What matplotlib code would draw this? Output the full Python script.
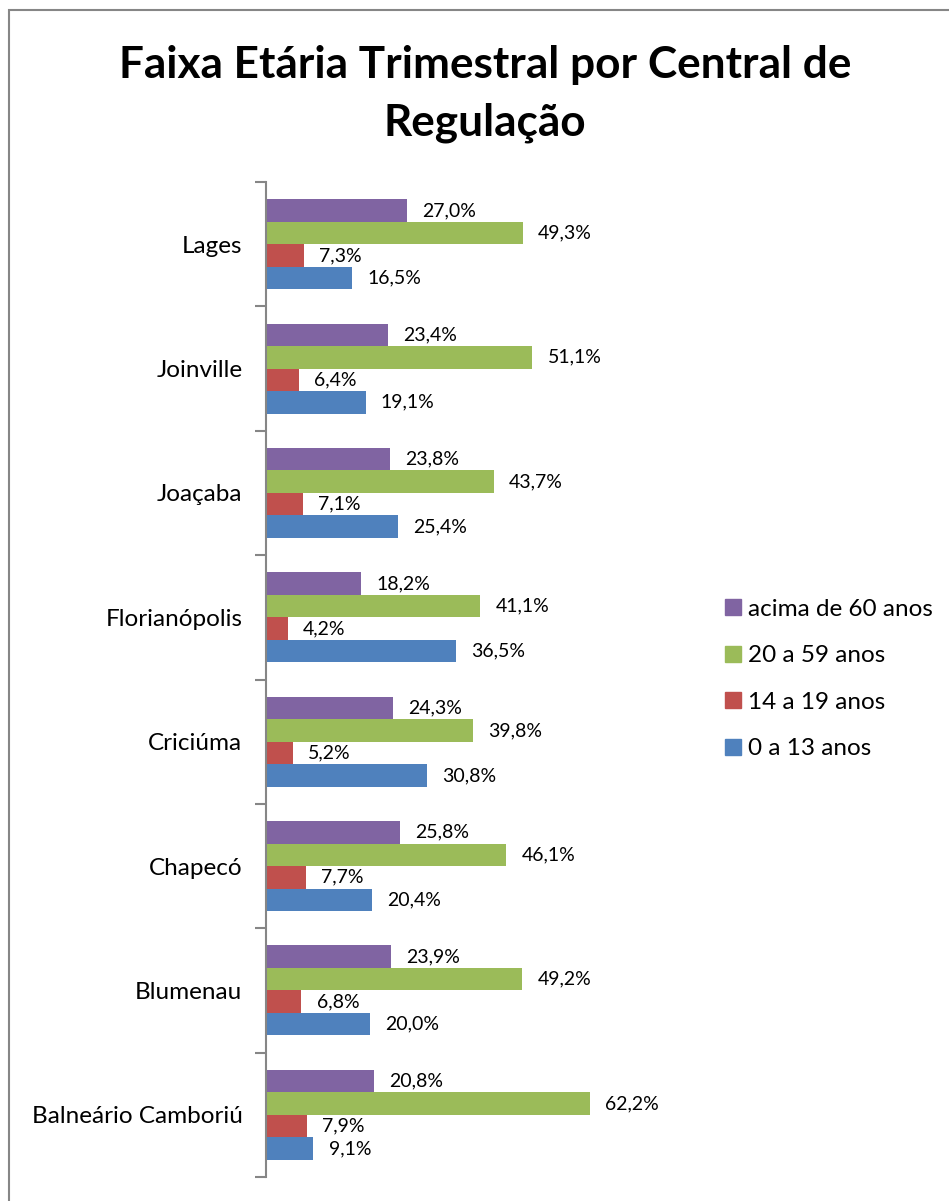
import matplotlib
matplotlib.use("Agg")
import matplotlib.pyplot as plt
import numpy as np
from matplotlib.patches import Rectangle, Patch
from matplotlib.ticker import FixedLocator

plt.rcParams['font.family'] = ['Lato', 'DejaVu Sans']

# data (percent)
centrais = ["Lages", "Joinville", "Joaçaba", "Florianópolis", "Criciúma",
            "Chapecó", "Blumenau", "Balneário Camboriú"]
acima_60 = [27.0, 23.4, 23.8, 18.2, 24.3, 25.8, 23.9, 20.8]
de_20_59 = [49.3, 51.1, 43.7, 41.1, 39.8, 46.1, 49.2, 62.2]
de_14_19 = [7.3, 6.4, 7.1, 4.2, 5.2, 7.7, 6.8, 7.9]
de_0_13 = [16.5, 19.1, 25.4, 36.5, 30.8, 20.4, 20.0, 9.1]

series = [
    ("acima de 60 anos", acima_60, "#8064A2"),
    ("20 a 59 anos", de_20_59, "#9BBB59"),
    ("14 a 19 anos", de_14_19, "#C0504D"),
    ("0 a 13 anos", de_0_13, "#4F81BD"),
]

fig = plt.figure(figsize=(9.49, 12.01), dpi=100)
fig.patches.append(Rectangle((9 / 949, -0.1), 1.2, 1 - 10 / 1201 + 0.1,
                             transform=fig.transFigure, fill=False,
                             edgecolor="#868686", linewidth=1.5))

ax = fig.add_axes([266 / 949, 1 - 1177 / 1201, 417 / 949, 995 / 1201])

y = np.arange(len(centrais))
h = 0.181
for k, (name, vals, color) in enumerate(series):
    pos = y + (k - 1.5) * h
    ax.barh(pos, vals, height=h, color=color, label=name)
    for p, v in zip(pos, vals):
        ax.text(v + 2.9, p, f"{v:.1f}%".replace(".", ","), va="center",
                ha="left", fontsize=14)

ax.set_xlim(0, 80)
ax.set_ylim(len(centrais) - 0.5, -0.5)
ax.set_yticks(y)
ax.set_yticklabels(centrais, fontsize=17.5)
ax.yaxis.set_minor_locator(FixedLocator(np.arange(-0.5, len(centrais), 1)))
ax.tick_params(axis="y", which="major", length=0, pad=17)
ax.tick_params(axis="y", which="minor", length=8, width=1.5, color="#868686")
ax.set_xticks([])
for s in ["top", "right", "bottom"]:
    ax.spines[s].set_visible(False)
ax.spines["left"].set_color("#868686")
ax.spines["left"].set_linewidth(1.5)

fig.text(485 / 949, 1 - 94 / 1201,
         "Faixa Etária Trimestral por Central de\nRegulação",
         ha="center", va="center", fontsize=31.8, fontweight="bold",
         linespacing=1.55)

handles = [Patch(color=c) for _, _, c in series]
fig.legend(handles, [n for n, _, _ in series], loc="center left",
           bbox_to_anchor=(703 / 949, 1 - 679 / 1201), frameon=False,
           fontsize=17.5, handlelength=0.65, handleheight=0.65,
           handletextpad=0.3, labelspacing=1.05)

fig.savefig("out.png", dpi=100)
